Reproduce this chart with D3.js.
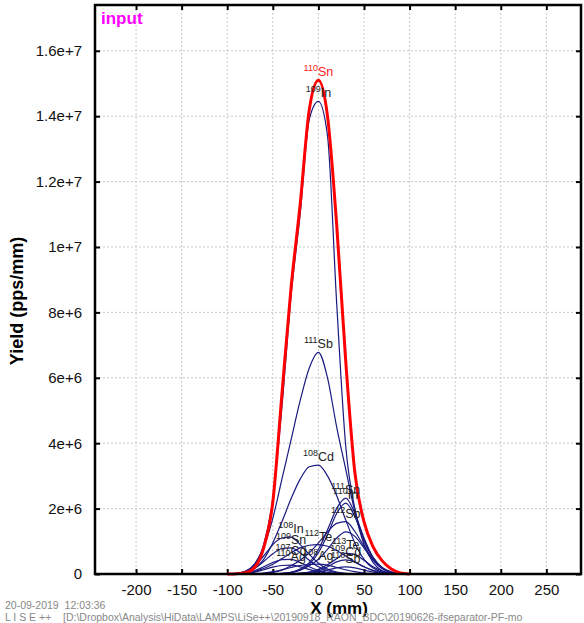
<!DOCTYPE html>
<html lang="en">
<head>
    <meta charset="UTF-8"/>
    <title>yield</title>
    <script src="https://d3js.org/d3.v7.min.js"></script>
    <style type="text/css">
        body { margin: 0; background: #fff; }
        text { font-family: "Liberation Sans", Arial, sans-serif; white-space: pre; }
        .grid line { stroke: #c8c8c8; stroke-dasharray: 2,2; }
    </style>
</head>
<body>
<svg id="main" width="584" height="623"></svg>
<script>

// x positions of the profile points (mm)
var xs = [-100, -90, -80, -70, -60, -50, -40, -30, -20, -10, 0, 10, 20, 30, 40, 50, 60, 70, 80, 90, 100]

// yields, in units of 1e6 pps/mm
var sn110 = [0, 0.01, 0.04, 0.2, 0.8, 2.2, 5.5, 8.75, 11.3, 14.2, 15.1, 14.0, 10.7, 6.5, 3.1, 1.6, 0.83, 0.4, 0.15, 0.03, 0]
var in109 = [0, 0.01, 0.07, 0.3, 0.9, 2.3, 5.1, 8.5, 11.0, 13.9, 14.45, 13.4, 8.3, 3.9, 2.0, 1.0, 0.5, 0.2, 0.06, 0.01, 0]
var sb111 = [0, 0.02, 0.08, 0.3, 0.8, 1.7, 2.9, 4.1, 5.3, 6.3, 6.78, 6.0, 4.5, 3.2, 1.9, 0.9, 0.35, 0.1, 0.02, 0, 0]
var cd108 = [0, 0.01, 0.05, 0.17, 0.45, 0.95, 1.6, 2.3, 2.9, 3.28, 3.33, 3.0, 2.4, 1.65, 0.95, 0.45, 0.18, 0.06, 0.02, 0, 0]
var sn111 = [0, 0, 0, 0, 0, 0.01, 0.02, 0.05, 0.15, 0.35, 0.75, 1.35, 2.0, 2.32, 1.85, 1.1, 0.5, 0.18, 0.05, 0.01, 0]
var in110 = [0, 0, 0, 0, 0, 0, 0.01, 0.04, 0.12, 0.3, 0.65, 1.2, 1.85, 2.17, 1.75, 1.05, 0.5, 0.18, 0.05, 0.01, 0]
var sb112 = [0, 0, 0, 0, 0.02, 0.05, 0.12, 0.25, 0.42, 0.65, 0.95, 1.28, 1.55, 1.6, 1.3, 0.85, 0.45, 0.18, 0.06, 0.01, 0]
var te111 = [0, 0, 0, 0, 0, 0, 0.02, 0.05, 0.12, 0.25, 0.45, 0.75, 1.1, 1.29, 1.15, 0.8, 0.42, 0.16, 0.05, 0.01, 0]
var in108 = [0, 0.02, 0.08, 0.25, 0.55, 0.9, 1.1, 1.13, 0.9, 0.6, 0.33, 0.15, 0.06, 0.02, 0, 0, 0, 0, 0, 0, 0]
var sn109 = [0, 0.01, 0.05, 0.17, 0.38, 0.62, 0.78, 0.8, 0.65, 0.42, 0.22, 0.1, 0.04, 0.01, 0, 0, 0, 0, 0, 0, 0]
var cd107 = [0, 0, 0.03, 0.1, 0.22, 0.35, 0.44, 0.45, 0.35, 0.22, 0.11, 0.05, 0.02, 0, 0, 0, 0, 0, 0, 0, 0]
var ag110 = [0, 0, 0.02, 0.06, 0.13, 0.21, 0.26, 0.27, 0.22, 0.14, 0.07, 0.03, 0.01, 0, 0, 0, 0, 0, 0, 0, 0]
var te112 = [0, 0.01, 0.03, 0.08, 0.17, 0.3, 0.47, 0.65, 0.8, 0.88, 0.9, 0.85, 0.72, 0.55, 0.37, 0.22, 0.11, 0.05, 0.02, 0, 0]
var ag108 = [0, 0, 0, 0.01, 0.03, 0.07, 0.13, 0.2, 0.26, 0.29, 0.3, 0.27, 0.2, 0.13, 0.07, 0.03, 0.01, 0, 0, 0, 0]
var te113 = [0, 0, 0, 0, 0, 0, 0, 0.01, 0.02, 0.06, 0.14, 0.28, 0.47, 0.63, 0.6, 0.42, 0.22, 0.09, 0.03, 0.01, 0]
var cd109 = [0, 0, 0, 0, 0, 0, 0, 0.01, 0.03, 0.05, 0.1, 0.22, 0.37, 0.43, 0.36, 0.22, 0.1, 0.04, 0.01, 0, 0]
var sb110 = [0, 0, 0, 0, 0, 0, 0, 0, 0.01, 0.03, 0.06, 0.12, 0.19, 0.22, 0.19, 0.12, 0.06, 0.02, 0.01, 0, 0]

// one entry per curve: mass number, element, values
var masses   = ["110", "109", "111", "108", "111", "110", "112", "111", "108", "109", "107", "110", "112", "108", "113", "109", "110"]
var elements = ["Sn", "In", "Sb", "Cd", "Sn", "In", "Sb", "Te", "In", "Sn", "Cd", "Ag", "Te", "Ag", "Te", "Cd", "Sb"]
var series   = [sn110, in109, sb111, cd108, sn111, in110, sb112, te111, in108, sn109, cd107, ag110, te112, ag108, te113, cd109, sb110]
var showLabel = [true, true, true, true, true, true, true, false, true, true, true, true, true, true, true, true, true]

// axis ticks
var xTicks = [-200, -150, -100, -50, 0, 50, 100, 150, 200, 250]
var yTicks = [0, 2e6, 4e6, 6e6, 8e6, 1e7, 1.2e7, 1.4e7, 1.6e7]
var yTickLabels = ["0", "2e+6", "4e+6", "6e+6", "8e+6", "1e+7", "1.2e+7", "1.4e+7", "1.6e+7"]

var plotLeft = 95, plotRight = 581, plotTop = 5, plotBottom = 574

var svg = d3.select("#main")

var x = d3.scaleLinear().domain([-245, 288]).range([plotLeft, plotRight])
var y = d3.scaleLinear().domain([0, 1.74e7]).range([plotBottom, plotTop])

// dotted grid
var grid = svg.append("g").attr("class", "grid")
grid.selectAll("line.v").data(xTicks).enter().append("line")
    .attr("x1", function(d) { return x(d) }).attr("x2", function(d) { return x(d) })
    .attr("y1", plotTop).attr("y2", plotBottom)
grid.selectAll("line.h").data(yTicks.slice(1)).enter().append("line")
    .attr("y1", function(d) { return y(d) }).attr("y2", function(d) { return y(d) })
    .attr("x1", plotLeft).attr("x2", plotRight)

// axes with inward ticks on all four sides
var tickStyle = function(g) {
    g.select(".domain").remove()
    g.selectAll(".tick line").attr("stroke", "#000").attr("stroke-width", 2)
    g.selectAll(".tick text").attr("fill", "#111").style("font-size", "15px")
}
svg.append("g").attr("transform", "translate(0," + plotBottom + ")")
    .call(d3.axisBottom(x).tickValues(xTicks).tickSize(-5).tickPadding(10)
        .tickFormat(function(d) { return String(d) }))
    .call(tickStyle)
svg.append("g").attr("transform", "translate(0," + plotTop + ")")
    .call(d3.axisTop(x).tickValues(xTicks).tickSize(-5).tickFormat(""))
    .call(tickStyle)
svg.append("g").attr("transform", "translate(" + plotLeft + ",0)")
    .call(d3.axisLeft(y).tickValues(yTicks).tickSize(-5).tickPadding(13)
        .tickFormat(function(d, i) { return yTickLabels[i] }))
    .call(tickStyle)
svg.append("g").attr("transform", "translate(" + plotRight + ",0)")
    .call(d3.axisRight(y).tickValues(yTicks).tickSize(-5).tickFormat(""))
    .call(tickStyle)

// the curves
var line = d3.line()
    .curve(d3.curveMonotoneX)
    .x(function(d, i) { return x(xs[i]) })
    .y(function(d) { return y(d * 1e6) })

var curves = series.map(function(s, i) { return { m: masses[i], el: elements[i], v: s, label: showLabel[i], red: i == 0 } })

svg.selectAll("path.curve")
    .data(curves.slice(1).concat([curves[0]]))
    .enter().append("path")
    .attr("class", "curve")
    .attr("d", function(d) { return line(d.v) })
    .attr("fill", "none")
    .attr("stroke", function(d) { return d.red ? "#ff0000" : "#1a1a80" })
    .attr("stroke-width", function(d) { return d.red ? 3 : 1.2 })
    .attr("stroke-linejoin", "round")

// isotope labels above each peak
var labels = svg.selectAll("text.iso")
    .data(curves.filter(function(d) { return d.label }))
    .enter().append("text")
    .attr("class", "iso")
    .attr("text-anchor", "middle")
    .attr("fill", function(d) { return d.red ? "#ff2020" : "#222" })
    .attr("x", function(d) { return x(xs[d3.maxIndex(d.v)]) })
    .attr("y", function(d) { return y(d3.max(d.v) * 1e6) - 4 })
labels.append("tspan").style("font-size", "9px").attr("dy", -5).text(function(d) { return d.m })
labels.append("tspan").style("font-size", "12.5px").attr("dy", 5).text(function(d) { return d.el })

// frame
svg.append("rect")
    .attr("x", plotLeft).attr("y", plotTop)
    .attr("width", plotRight - plotLeft).attr("height", plotBottom - plotTop)
    .attr("fill", "none").attr("stroke", "#000").attr("stroke-width", 2.5)

svg.append("text").attr("x", 101).attr("y", 24).text("input")
    .style("font-size", "17px").style("font-weight", "bold").attr("fill", "#ff00ff")

// axis titles
svg.append("text").attr("x", 339).attr("y", 614).attr("text-anchor", "middle")
    .style("font-size", "17px").style("font-weight", "bold").text("X (mm)")
svg.append("text").attr("transform", "translate(23,301) rotate(-90)").attr("text-anchor", "middle")
    .style("font-size", "18px").style("font-weight", "bold").text("Yield (pps/mm)")

// footer
svg.append("text").attr("x", 5).attr("y", 609).attr("fill", "#888").style("font-size", "10.5px")
    .text("20-09-2019  12:03:36")
svg.append("text").attr("x", 5).attr("y", 621).attr("fill", "#888").style("font-size", "10.5px")
    .text("L I S E ++    [D:\\Dropbox\\Analysis\\HiData\\LAMPS\\LiSe++\\20190918_RAON_BDC\\20190626-ifseparator-PF-mo")

</script>
</body>
</html>
